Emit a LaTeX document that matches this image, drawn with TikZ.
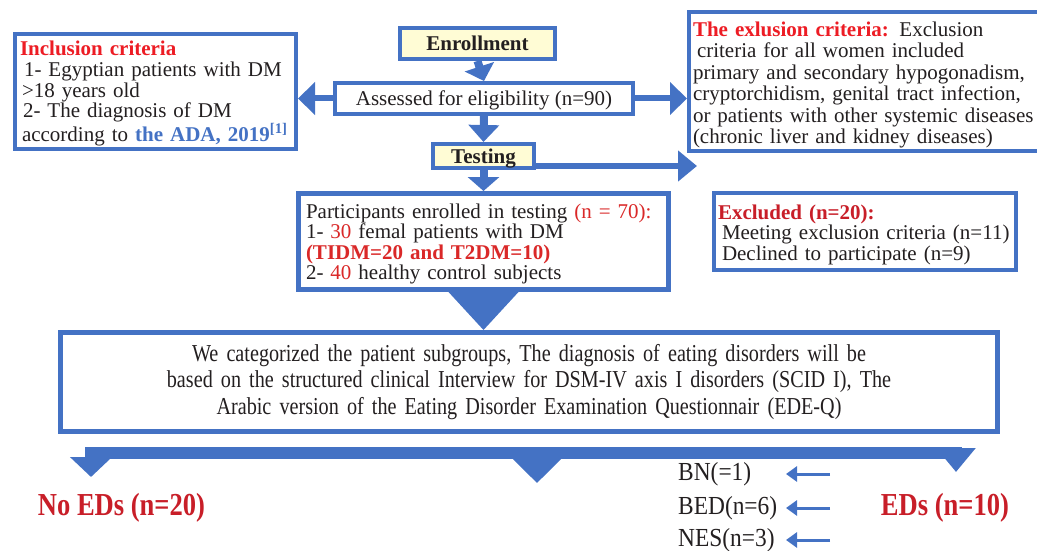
\documentclass[tikz,border=0pt]{standalone}
\usepackage{fontspec}
\setmainfont{Liberation Serif}
\newfontfamily\narrowA[FakeStretch=0.83]{Liberation Serif}
\newfontfamily\narrowB[FakeStretch=0.9]{Liberation Serif}
\usetikzlibrary{arrows.meta}
\definecolor{blu}{RGB}{68,114,196}
\definecolor{ink}{RGB}{35,31,32}
\definecolor{redA}{RGB}{237,28,36}
\definecolor{redB}{RGB}{218,40,40}
\definecolor{redC}{RGB}{200,30,40}
\definecolor{pale}{RGB}{255,252,213}
\tikzset{
  txt/.style={font=\fontsize{21}{21.3}\selectfont, text=ink},
  box/.style={txt, draw=blu, line width=4pt, fill=white, inner ysep=0pt},
  ybox/.style={box, fill=pale, font=\fontsize{21}{21.3}\selectfont\bfseries, inner sep=0pt},
  blk/.style={draw=blu, line width=#1},
  blockarrow/.style={blk=8pt, -{Triangle[width=30pt,length=15pt]}},
  sidearrow/.style={blk=6pt, -{Triangle[width=32pt,length=17pt]}},
  bar/.style={blk=12pt},
  thinarrow/.style={blk=3pt, -{Triangle[width=15pt,length=11pt]}},
  outcome/.style={font=\narrowA\fontsize{32}{34}\selectfont\bfseries, text=redC},
  sublabel/.style={font=\narrowB\fontsize{26}{28}\selectfont, text=ink, anchor=west, inner sep=0pt},
}
\begin{document}
\begin{tikzpicture}[x=1pt,y=-1pt]
\useasboundingbox (0,0) rectangle (1037,551);

% boxes
\node[box, minimum width=281pt, minimum height=115pt, inner xsep=5pt, text width=271pt, align=left,
      font=\fontsize{21}{20.7}\selectfont] (incl) at (155.5,91.5)
 {\rule{0pt}{18.5pt}{\color{redA}\bfseries Inclusion criteria}\\
  \hspace*{4pt}1- Egyptian patients with DM\\
  \hspace*{2pt}>18 years old\\
  \hspace*{3pt}2- The diagnosis of DM\\
  \hspace*{2pt}according to {\color{blu}\bfseries the ADA, 2019\textsuperscript{[1]}}};

\node[ybox, minimum width=155pt, minimum height=31pt, text height=15.5pt, text depth=0.5pt] (enroll) at (477.5,43.5) {Enrollment};

\node[box, minimum width=298pt, minimum height=31pt, inner xsep=0pt, text height=15pt, text depth=0pt] (assess) at (484,98.5) {Assessed for eligibility (n=90)};

\node[ybox, minimum width=101pt, minimum height=24pt, text height=15pt, text depth=1pt] (testing) at (483.5,156) {Testing};

\node[box, minimum width=371pt, minimum height=139pt, inner xsep=4pt, text width=363pt, align=left,
      font=\fontsize{21}{21.4}\selectfont] (excl) at (874.5,81.5)
 {\rule{0pt}{21.5pt}{\color{redA}\bfseries The exlusion criteria:} Exclusion\\
  \hspace*{4pt}criteria for all women included\\
  primary and secondary hypogonadism,\\
  cryptorchidism, genital tract infection,\\
  or patients with other systemic diseases\\
  (chronic liver and kidney diseases)};

\node[box, line width=5pt, minimum width=370pt, minimum height=96pt, inner xsep=7.5pt, text width=355pt, align=left,
      font=\fontsize{21}{20.4}\selectfont] (part) at (483.5,241.5)
 {\rule{0pt}{19.5pt}Participants enrolled in testing {\color{redB}(n = 70):}\\
  1- {\color{redB}30} femal patients with DM\\
  {\color{redB}\bfseries (TIDM=20 and T2DM=10)}\\
  2- {\color{redB}40} healthy control subjects};

\node[box, minimum width=302pt, minimum height=77pt, inner xsep=4pt, text width=294pt, align=left,
      font=\fontsize{21}{20.5}\selectfont] (excd) at (865,231.5)
 {\rule{0pt}{20.5pt}{\color{redC}\bfseries Excluded (n=20):}\\
  \hspace*{4pt}Meeting exclusion criteria (n=11)\\
  \hspace*{4pt}Declined to participate (n=9)};

\node[box, line width=5pt, minimum width=937pt, minimum height=99pt, inner xsep=10pt, text width=917pt, align=center,
      font=\narrowA\fontsize{24.3}{26.5}\selectfont] (big) at (529,382)
 {We categorized the patient subgroups, The diagnosis of eating disorders will be\\
  based on the structured clinical Interview for DSM-IV axis I disorders (SCID I), The\\
  Arabic version of the Eating Disorder Examination Questionnair (EDE-Q)};

% connectors
\draw[blockarrow] (enroll.south) -- (assess.north);
\draw[blockarrow, -{Triangle[width=30pt,length=17pt]}] (assess.south) -- (testing.north);
\draw[blockarrow, -{Triangle[width=31pt,length=14pt]}] (testing.south) -- (part.north);
\draw[sidearrow] (assess.west) -- (assess.west -| incl.east);
\draw[sidearrow] (assess.east) -- (assess.east -| excl.west);
\coordinate (extip) at (697,166);
\draw[sidearrow, -{Triangle[width=30pt,length=19pt]}] ([yshift=-10pt]testing.east) -- (extip);
\fill[blu] ([xshift=-35pt]part.south) -- ([xshift=35pt]part.south) -- (part.south |- big.north) -- cycle;

% bottom split
\coordinate (barL) at (85,453);
\coordinate (barR) at (962,453);
\coordinate (ldrop) at (91,453);
\coordinate (mdrop) at (537,453);
\coordinate (rdrop) at (956,453);
\coordinate (ltip) at (91,477);
\coordinate (mtip) at (537,483);
\coordinate (rtip) at (956,472);
\draw[bar] (barL) -- (barR);
\draw[bar, -{Triangle[width=41pt,length=20pt]}] (ldrop) -- (ltip);
\draw[bar, -{Triangle[width=47pt,length=24pt]}] (mdrop) -- (mtip);
\draw[bar, -{Triangle[width=38pt,length=24pt]}] (rdrop) -- (rtip);

% outcome labels
\node[outcome] (noeds) at (121.5,508) {No EDs (n=20)};
\node[outcome] (eds) at (945,508) {EDs (n=10)};
\node[sublabel] (bn) at (678,474) {BN(=1)};
\node[sublabel] (bed) at (678,508) {BED(n=6)};
\node[sublabel] (nes) at (678,540) {NES(n=3)};
\coordinate (a1) at (830,474); \coordinate (t1) at (786,474);
\coordinate (a2) at (830,508); \coordinate (t2) at (786,508);
\coordinate (a3) at (830,540); \coordinate (t3) at (786,540);
\draw[thinarrow] (a1) -- (t1);
\draw[thinarrow] (a2) -- (t2);
\draw[thinarrow] (a3) -- (t3);
\end{tikzpicture}
\end{document}
